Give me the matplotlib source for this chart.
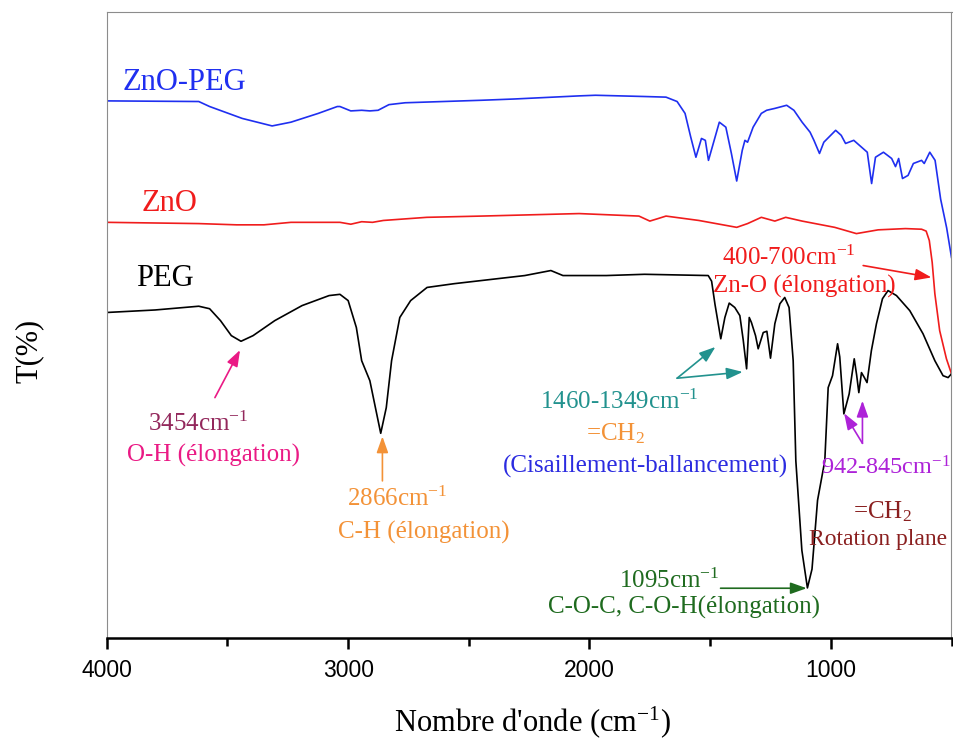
import numpy as np
import matplotlib
matplotlib.use("Agg")
import matplotlib.pyplot as plt

plt.rcParams['mathtext.fontset'] = 'custom'
plt.rcParams['mathtext.rm'] = 'Liberation Serif'
plt.rcParams['mathtext.it'] = 'Liberation Serif:italic'
plt.rcParams['mathtext.bf'] = 'Liberation Serif:bold'

# ---------------- data (wavenumber cm-1, transmittance a.u.) ----------------
zno_peg_w = [4000, 3619, 3574, 3439, 3315, 3237, 3124, 3045, 3034, 2989, 2944, 2910, 2876, 2831,
             2764, 2448, 2313, 2043, 1975, 1773, 1683, 1637, 1604, 1581, 1559, 1536, 1520, 1507,
             1462, 1435, 1412, 1390, 1367, 1356, 1345, 1322, 1288, 1266, 1232, 1183, 1153, 1119,
             1086, 1070, 1047, 1029, 980, 957, 939, 905, 849, 831, 815, 782, 748, 732, 719, 703,
             680, 658, 624, 613, 590, 568, 545, 520, 500]
zno_peg_t = [85.8, 85.7, 84.9, 83.0, 81.8, 82.4, 83.8, 84.9, 84.9, 84.2, 84.3, 84.2, 84.3, 85.2,
             85.5, 85.9, 86.1, 86.6, 86.7, 86.5, 86.4, 85.7, 83.8, 80.1, 76.8, 79.8, 79.5, 76.3,
             82.4, 81.6, 77.4, 73.0, 77.9, 79.5, 79.2, 81.6, 83.8, 84.3, 84.6, 85.1, 84.3, 82.4,
             80.8, 79.5, 77.4, 79.2, 81.1, 80.3, 79.0, 79.5, 77.6, 72.6, 76.8, 77.6, 76.6, 75.3,
             76.6, 73.4, 73.9, 75.8, 76.3, 75.8, 77.6, 76.3, 70.1, 65.5, 60.8]

zno_w = [4000, 3619, 3462, 3349, 3237, 3034, 2989, 2944, 2899, 2854, 2674, 2448, 2043, 1795,
         1750, 1716, 1683, 1547, 1390, 1345, 1288, 1232, 1187, 1119, 984, 894, 804, 691, 624,
         605, 592, 580, 569, 549, 521, 500]
zno_t = [66.4, 66.2, 66.0, 66.0, 66.4, 66.4, 66.1, 66.5, 66.4, 66.7, 67.2, 67.4, 67.8, 67.4,
         66.6, 67.0, 67.4, 66.7, 65.6, 66.2, 67.2, 66.6, 67.2, 66.6, 65.6, 64.6, 65.2, 65.4, 65.3,
         65.0, 63.5, 60.0, 55.0, 49.1, 44.6, 42.2]

peg_w = [4000, 3800, 3619, 3574, 3529, 3484, 3444, 3394, 3304, 3191, 3079, 3034, 3000, 2966,
         2944, 2910, 2887, 2865, 2842, 2820, 2786, 2741, 2673, 2561, 2268, 2160, 2110, 1930,
         1772, 1508, 1494, 1480, 1456, 1439, 1421, 1398, 1377, 1363, 1349, 1338, 1329, 1312,
         1301, 1280, 1265, 1250, 1232, 1211, 1191, 1173, 1156, 1145, 1120, 1097, 1078, 1055,
         1025, 1011, 993, 972, 963, 946, 924, 903, 893, 884, 873, 861, 850, 832, 811, 786,
         763, 728, 673, 618, 569, 535, 514, 500]
peg_t = [52.0, 52.4, 53.0, 52.6, 50.7, 48.3, 47.4, 48.3, 50.7, 53.1, 54.7, 54.9, 53.9, 49.6,
         44.3, 41.1, 36.8, 32.7, 36.8, 44.3, 51.2, 53.9, 56.0, 56.6, 57.9, 58.7, 57.9, 57.9,
         58.1, 57.9, 57.0, 53.3, 47.8, 51.2, 53.5, 52.8, 51.5, 47.6, 43.0, 51.2, 50.4, 48.3,
         46.2, 48.8, 49.0, 44.7, 50.2, 53.4, 54.4, 52.8, 44.3, 28.3, 14.0, 8.0, 11.0, 22.0,
         28.3, 40.0, 41.9, 47.0, 44.9, 35.8, 39.0, 44.6, 42.0, 39.2, 42.4, 41.6, 40.8, 45.9,
         50.2, 54.2, 55.5, 54.7, 52.3, 48.6, 44.3, 41.9, 41.6, 42.2]

series_names = ["ZnO-PEG", "ZnO", "PEG"]
x_major = [4000, 3000, 2000, 1000]
x_minor = [3500, 2500, 1500, 500]
x_label = "Nombre d'onde (cm$^{-1}$)"
y_label = "T(%)"

# ---------------- figure ----------------
W, H = 954, 740
fig = plt.figure(figsize=(W / 100, H / 100), dpi=100)
ax = fig.add_axes([106.8 / W, 1 - 638 / H, (951.5 - 106.8) / W, (638 - 12) / H])

serif = 'Liberation Serif'
c_blue = '#1f2ff0'
c_red = '#f01c1c'

ax.plot(zno_peg_w, zno_peg_t, color=c_blue, lw=1.2)
ax.plot(zno_w, zno_t, color=c_red, lw=1.2)
ax.plot(peg_w, peg_t, color='black', lw=1.2)

ax.set_xlim(4000, 500)
ax.set_ylim(0, 100)
ax.set_xticks(x_major)
ax.set_xticks(x_minor, minor=True)
ax.set_xticklabels([str(v) for v in x_major], fontfamily='Liberation Sans', fontsize=16.5)
ax.set_yticks([])
ax.tick_params(axis='x', which='major', direction='out', length=8, width=1.8, pad=7)
ax.tick_params(axis='x', which='minor', direction='out', length=6, width=1.8)
for s in ['left', 'top', 'right']:
    ax.spines[s].set_color('#8c8c8c')
    ax.spines[s].set_linewidth(0.8)
ax.spines['bottom'].set_linewidth(1.8)
ax.spines['bottom'].set_color('black')

fig.text(533 / W, 1 - 722 / H, x_label, fontsize=22, family=serif, ha='center', va='center')
fig.text(29 / W, 1 - 351 / H, y_label, fontsize=22, family=serif, ha='center', va='center',
         rotation=90)

# series names
ax.text(3933, 88.8, series_names[0], color=c_blue, fontsize=22, family=serif, ha='left', va='center')
ax.text(3858, 69.4, series_names[1], color=c_red, fontsize=22, family=serif, ha='left', va='center')
ax.text(3879, 57.4, series_names[2], color='black', fontsize=22, family=serif, ha='left', va='center')

fs = 18
def label(x, y, s, c, size=fs, ha='center'):
    ax.text(x, y, s, color=c, fontsize=size, family=serif, ha=ha, va='center')

def arrow(tail, head, c):
    ax.annotate('', xy=head, xytext=tail,
                arrowprops=dict(arrowstyle='-|>,head_length=0.7,head_width=0.25',
                                color=c, lw=1.2, mutation_scale=14, shrinkA=0, shrinkB=0))

c_pink = '#ea1a85'
c_maroon = '#93285c'
c_orange = '#f39237'
c_teal = '#22928e'
c_tblue = '#2b2be0'
c_purple = '#ad22d8'
c_dred = '#8a1f1f'
c_green = '#1f6b1f'

label(3623, 34.2, "3454cm$^{-1}$", c_maroon)
label(3557, 29.1, "O-H (élongation)", c_pink)
arrow((3552, 38.4), (3448, 46.0), c_pink)

label(2797, 22.2, "2866cm$^{-1}$", c_orange)
label(2688, 16.8, "C-H (élongation)", c_orange)
arrow((2858, 25.1), (2858, 32.2), c_orange)

label(1876, 37.8, "1460-1349cm$^{-1}$", c_teal)
label(1891, 32.6, "=CH$_2$", c_orange)
label(1768, 27.4, "(Cisaillement-ballancement)", c_tblue)
arrow((1637, 41.5), (1478, 46.5), c_teal)
arrow((1637, 41.5), (1365, 42.5), c_teal)

label(770, 27.2, "942-845cm$^{-1}$", c_purple, size=17.5)
label(787, 20.1, "=CH$_2$", c_dred)
label(518, 15.7, "Rotation plane", c_dred, size=17, ha='right')
arrow((869, 31.1), (945, 35.9), c_purple)
arrow((869, 31.1), (869, 37.9), c_purple)

label(1671, 9.1, "1095cm$^{-1}$", c_green)
label(1607, 4.8, "C-O-C, C-O-H(élongation)", c_green)
arrow((1457, 7.95), (1100, 7.95), c_green)

label(1175, 60.8, "400-700cm$^{-1}$", c_red)
label(1108, 56.1, "Zn-O (élongation)", c_red)
arrow((866, 59.5), (583, 57.6), c_red)

fig.savefig('out.png', dpi=100)
